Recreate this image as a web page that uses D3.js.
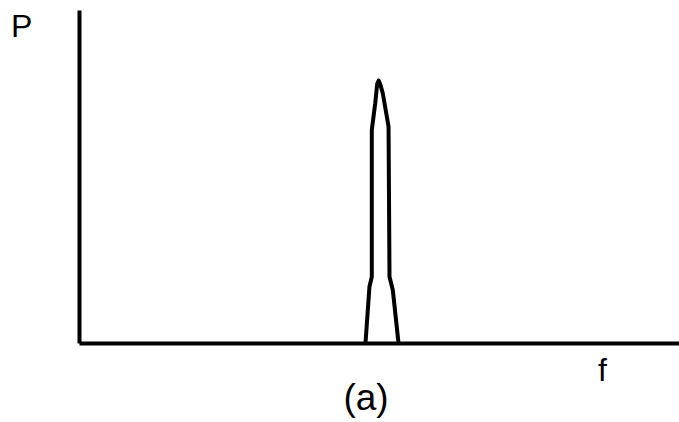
<!DOCTYPE html>
<html>
<head>
<meta charset="utf-8">
<script src="https://cdn.jsdelivr.net/npm/d3@7"></script>
<style>
  html, body { margin: 0; padding: 0; background: #fff; }
  svg { display: block; }
  text { font-family: "Liberation Sans", Arial, Helvetica, sans-serif; fill: #000; }
</style>
</head>
<body>
<svg id="chart" width="679" height="422"></svg>
<script>
// Spectrum peak outline (frequency f, power P)
const peakF = [47.75, 48.41, 48.80, 48.80, 49.37, 49.70, 49.95, 50.25, 50.63, 50.92, 51.59, 51.75, 52.30, 53.25];
const peakP = [0.000, 0.169, 0.199, 0.640, 0.720, 0.778, 0.788, 0.775, 0.750, 0.720, 0.650, 0.199, 0.159, 0.000];
const xLabel = "f";
const yLabel = "P";
const caption = "(a)";

const svg = d3.select("#chart");
const x = d3.scaleLinear().domain([0, 100]).range([79, 679]);
const y = d3.scaleLinear().domain([0, 1]).range([343, 10]);

const ink = "#000";

// axes (no ticks)
const yAxis = d3.axisLeft(y).tickValues([]).tickSizeOuter(0);
const xAxis = d3.axisBottom(x).tickValues([]).tickSizeOuter(0);
svg.append("g").attr("transform", `translate(${x(0)},0)`).call(yAxis)
  .select(".domain").attr("stroke", ink).attr("stroke-width", 4);
svg.append("g").attr("transform", `translate(0,${y(0)})`).call(xAxis)
  .select(".domain").attr("stroke", ink).attr("stroke-width", 4);

// peak
const pts = peakF.map((f, i) => [f, peakP[i]]);
const line = d3.line().x(d => x(d[0])).y(d => y(d[1])).curve(d3.curveLinear);
svg.append("path").datum(pts)
  .attr("d", line)
  .attr("fill", "none")
  .attr("stroke", ink)
  .attr("stroke-width", 4)
  .attr("stroke-linejoin", "round");

// labels
svg.append("text").attr("x", 11).attr("y", 37).attr("font-size", 32).text(yLabel);
svg.append("text").attr("x", 598).attr("y", 381).attr("font-size", 32).text(xLabel);
svg.append("text").attr("x", 366).attr("y", 410).attr("font-size", 37)
  .attr("text-anchor", "middle").text(caption);
</script>
</body>
</html>
